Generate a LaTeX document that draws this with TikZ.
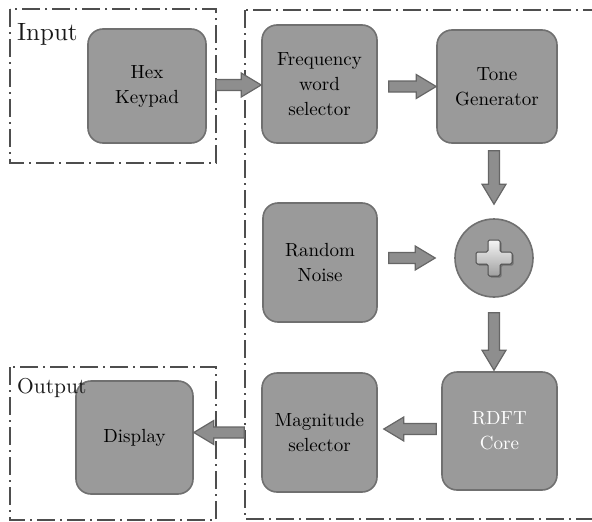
\documentclass[tikz,border=0pt]{standalone}
\usetikzlibrary{calc}

% Latin Modern at its 10pt design size, scaled up
\font\blockfnt="[lmroman10-regular.otf]" at 19pt
\font\inlabelfnt="[lmroman10-regular.otf]" at 25pt
\font\outlabelfnt="[lmroman10-regular.otf]" at 21.5pt

\definecolor{boxfill}{HTML}{9A9A9A}
\definecolor{boxline}{HTML}{707070}
\definecolor{framecol}{HTML}{4E4E4E}
\definecolor{arrfill}{HTML}{8E8E8E}
\definecolor{arrline}{HTML}{666666}

\tikzset{
  block/.style={draw=boxline, fill=boxfill, line width=1.6pt, rounded corners=15pt,
    align=center, font=\fontsize{19}{25}\selectfont\blockfnt, text=black, inner sep=0pt},
  frame/.style={draw=framecol, line width=2.6pt,
    dash pattern=on 18pt off 5pt on 2pt off 5pt},
  fatarrow/.style={draw=arrline, fill=arrfill, line width=1.2pt, line join=miter},
  framelabel/.style={anchor=north west, inner sep=0pt, text=black!90},
}

% block arrow from #1 to #2: shaft 11pt wide, head 24pt wide and 20pt long
\newcommand{\blockarrow}[2]{%
  \path[fatarrow] let \p1=#1, \p2=#2,
      \n1={atan2(\y2-\y1,\x2-\x1)},
      \n2={veclen(\x2-\x1,\y2-\y1)-20} in
    ($(\p1)+(\n1+90:5.5pt)$)
    -- ($(\p1)+(\n1:\n2)+(\n1+90:5.5pt)$)
    -- ($(\p1)+(\n1:\n2)+(\n1+90:12pt)$)
    -- (\p2)
    -- ($(\p1)+(\n1:\n2)+(\n1-90:12pt)$)
    -- ($(\p1)+(\n1:\n2)+(\n1-90:5.5pt)$)
    -- ($(\p1)+(\n1-90:5.5pt)$)
    -- cycle;%
}

\begin{document}
\begin{tikzpicture}[x=1pt, y=-1pt]
  \useasboundingbox (0,0) rectangle (592,522);

  % dash-dot frames
  \draw[frame] (10,9) rectangle (216,163);
  \draw[frame] (245,10) rectangle (604,519);
  \draw[frame] (10,367) rectangle (216,520);

  \node[framelabel, font=\inlabelfnt] (inlabel) at (17,23) {Input};

  % blocks
  \node[block, minimum width=118pt, minimum height=114pt] (hex) at (147,86) {Hex\\Keypad};
  \node[block, minimum width=115pt, minimum height=118pt] (freq) at (319.5,84) {Frequency\\word\\selector};
  \node[block, minimum width=120pt, minimum height=113pt] (tone) at (497,86.5) {Tone\\Generator};
  \node[block, minimum width=114pt, minimum height=119pt] (noise) at (320,262.5) {Random\\Noise};
  \node[circle, draw=boxline, fill=boxfill, line width=1.6pt, minimum size=78pt, inner sep=0pt] (sum) at (494,258) {};
  \node[block, minimum width=115pt, minimum height=118pt, text=white] (rdft) at (499.5,431) {RDFT\\Core};
  \node[block, minimum width=115pt, minimum height=119pt] (mag) at (319.5,432.5) {Magnitude\\selector};
  \node[block, minimum width=117pt, minimum height=113pt] (disp) at (134.5,437.5) {Display};

  \node[framelabel, font=\outlabelfnt] (outlabel) at (17,378) {Output};

  % plus sign of the adder
  \begin{scope}[shift={(sum.center)}]
    \fill[black!55, rounded corners=1.5pt, shift={(1.5,1.5)}]
      (-6,-18) -- (6,-18) -- (6,-6) -- (18,-6) -- (18,6) -- (6,6) -- (6,18)
      -- (-6,18) -- (-6,6) -- (-18,6) -- (-18,-6) -- (-6,-6) -- cycle;
    \draw[draw=black!70, line width=1pt, rounded corners=1.5pt,
          top color=white!92!gray, bottom color=gray!75]
      (-6,-18) -- (6,-18) -- (6,-6) -- (18,-6) -- (18,6) -- (6,6) -- (6,18)
      -- (-6,18) -- (-6,6) -- (-18,6) -- (-18,-6) -- (-6,-6) -- cycle;
  \end{scope}

  % data flow
  \blockarrow{($(hex.east)+(9,-1)$)}{($(freq.west |- hex.east)+(0,-1)$)}
  \blockarrow{($(freq.east |- tone.west)+(11,0)$)}{(tone.west)}
  \blockarrow{($(sum.north |- tone.south)+(0,7)$)}{($(sum.north)+(0,-14)$)}
  \blockarrow{($(noise.east |- sum.west)+(11,0)$)}{($(sum.west)+(-19,0)$)}
  \blockarrow{($(sum.south)+(0,15)$)}{($(sum.south |- rdft.north)+(0,-1)$)}
  \blockarrow{($(rdft.west)+(-5,-2)$)}{($(mag.east |- rdft.west)+(6,-2)$)}
  \blockarrow{($(mag.west)+(-17,0)$)}{(disp.east |- mag.west)}
\end{tikzpicture}
\end{document}
